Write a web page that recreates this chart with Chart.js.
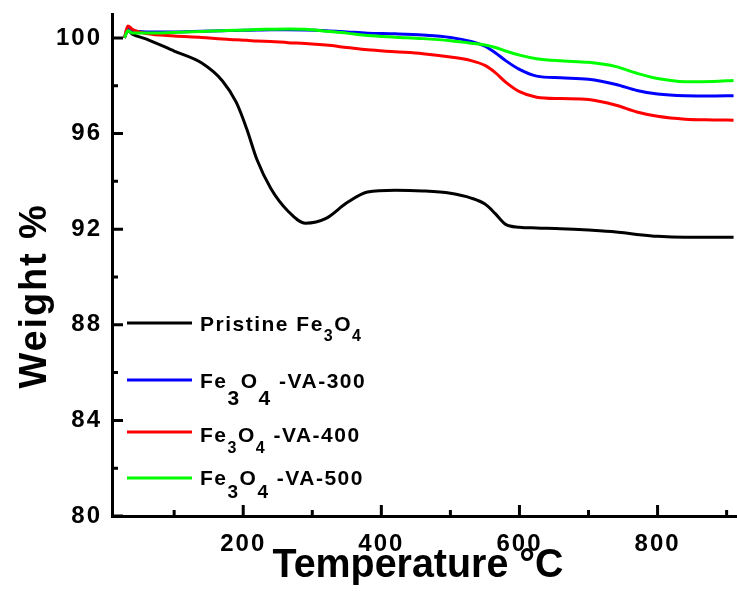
<!DOCTYPE html>
<html lang="en">
<head>
  <meta charset="UTF-8" />
  <title>TGA - Fe3O4 samples</title>
  <script src="https://cdn.jsdelivr.net/npm/chart.js"></script>
  <style>
    html, body {
      margin: 0;
      padding: 0;
      background: #ffffff;
    }
    #tgaChart {
      display: block;
    }
  </style>
</head>
<body>
  <canvas id="tgaChart" width="737" height="597"></canvas>

  <script>
    // temperature (°C) and weight (%) readings
    const temperature = [28, 33, 40, 60, 100, 140, 170, 190, 205, 220, 240, 265, 290, 320, 350, 380, 420, 460, 500, 530, 550, 565, 580, 600, 625, 660, 700, 740, 770, 800, 840, 880, 910];
    const pristine = [100.0, 100.3, 100.15, 99.95, 99.45, 98.95, 98.2, 97.3, 96.2, 94.9, 93.7, 92.75, 92.25, 92.45, 93.1, 93.55, 93.63, 93.6, 93.5, 93.3, 93.05, 92.65, 92.2, 92.08, 92.05, 92.02, 91.96, 91.88, 91.78, 91.7, 91.66, 91.66, 91.66];
    const va300 = [100.0, 100.45, 100.3, 100.25, 100.25, 100.28, 100.3, 100.31, 100.32, 100.33, 100.34, 100.34, 100.33, 100.3, 100.25, 100.2, 100.17, 100.12, 100.02, 99.85, 99.65, 99.38, 99.05, 98.68, 98.4, 98.33, 98.27, 98.05, 97.8, 97.65, 97.58, 97.57, 97.58];
    const va400 = [100.0, 100.5, 100.35, 100.18, 100.08, 100.02, 99.95, 99.92, 99.9, 99.87, 99.85, 99.8, 99.77, 99.7, 99.6, 99.5, 99.42, 99.34, 99.2, 99.05, 98.85, 98.55, 98.15, 97.75, 97.52, 97.46, 97.42, 97.18, 96.9, 96.72, 96.6, 96.57, 96.56];
    const va500 = [100.0, 100.3, 100.2, 100.2, 100.23, 100.27, 100.3, 100.32, 100.33, 100.35, 100.36, 100.37, 100.36, 100.28, 100.2, 100.1, 100.03, 99.97, 99.88, 99.78, 99.7, 99.6, 99.45, 99.28, 99.13, 99.04, 98.98, 98.8, 98.52, 98.3, 98.17, 98.18, 98.22];

    const seriesSuffix = ['', ' -VA-300', ' -VA-400', ' -VA-500'];
    const seriesColors = ['#000000', '#0000ff', '#ff0000', '#00ff00'];

    const xMajorTicks = [200, 400, 600, 800];
    const xMinorTicks = [100, 300, 500, 700, 900];
    const yMajorTicks = [80, 84, 88, 92, 96, 100];
    const yMinorTicks = [82, 86, 90, 94, 98];

    const FONT = '"Liberation Sans", Arial, sans-serif';

    function points(values) {
      return temperature.map((t, i) => ({ x: t, y: values[i] }));
    }

    // stretch or squeeze a bold label to a given width
    function fitText(ctx, text, x, y, width) {
      ctx.letterSpacing = '0px';
      const w = ctx.measureText(text).width;
      if (w > width) {
        ctx.fillText(text, x, y, width);
      } else {
        ctx.letterSpacing = ((width - w) / text.length).toFixed(2) + 'px';
        ctx.fillText(text, x, y);
        ctx.letterSpacing = '0px';
      }
    }

    // widen the tick numbers a little, like the original plot
    const spacing = {
      id: 'spacing',
      beforeDraw(chart) { chart.ctx.letterSpacing = '2px'; },
      afterDatasetsDraw(chart) { chart.ctx.letterSpacing = '0px'; }
    };

    // inward tick marks on both axes
    const tickMarks = {
      id: 'tickMarks',
      afterDatasetsDraw(chart) {
        const { ctx, chartArea: { left, bottom }, scales: { x, y } } = chart;
        ctx.save();
        ctx.strokeStyle = '#000';
        ctx.lineWidth = 3;
        ctx.beginPath();
        xMajorTicks.forEach(v => { const px = x.getPixelForValue(v); ctx.moveTo(px, bottom); ctx.lineTo(px, bottom - 11); });
        xMinorTicks.forEach(v => { const px = x.getPixelForValue(v); ctx.moveTo(px, bottom); ctx.lineTo(px, bottom - 6); });
        yMajorTicks.forEach(v => { const py = y.getPixelForValue(v); ctx.moveTo(left, py); ctx.lineTo(left + 11, py); });
        yMinorTicks.forEach(v => { const py = y.getPixelForValue(v); ctx.moveTo(left, py); ctx.lineTo(left + 6, py); });
        ctx.stroke();
        ctx.restore();
      }
    };

    // axis titles
    const axisTitles = {
      id: 'axisTitles',
      afterDraw(chart) {
        const ctx = chart.ctx;
        ctx.save();
        ctx.fillStyle = '#000';
        ctx.textAlign = 'center';
        ctx.textBaseline = 'alphabetic';
        ctx.font = 'bold 41px ' + FONT;
        fitText(ctx, 'Temperature °C', 418, 577, 291);

        ctx.translate(46, 296);
        ctx.rotate(-Math.PI / 2);
        ctx.font = 'bold 38px ' + FONT;
        fitText(ctx, 'Weight %', 0, 0, 185);
        ctx.restore();
      }
    };

    // legend with subscripted formula
    const legendRows = [
      { lineY: 323, base: 331, subDrop: 10, subSize: 16, prefix: 'Pristine ' },
      { lineY: 380, base: 388, subDrop: 17, subSize: 21, prefix: '' },
      { lineY: 432, base: 442, subDrop: 11, subSize: 16, prefix: '' },
      { lineY: 478, base: 485, subDrop: 13, subSize: 19, prefix: '' }
    ];

    const formulaLegend = {
      id: 'formulaLegend',
      afterDraw(chart) {
        const ctx = chart.ctx;
        ctx.save();
        ctx.textAlign = 'left';
        ctx.textBaseline = 'alphabetic';
        ctx.letterSpacing = '1.5px';
        legendRows.forEach((row, i) => {
          ctx.strokeStyle = seriesColors[i];
          ctx.lineWidth = 3;
          ctx.beginPath();
          ctx.moveTo(127, row.lineY);
          ctx.lineTo(192, row.lineY);
          ctx.stroke();

          ctx.fillStyle = '#000';
          const main = 'bold 21px ' + FONT;
          const sub = 'bold ' + row.subSize + 'px ' + FONT;
          const parts = [
            [row.prefix + 'Fe', main, 0],
            ['3', sub, row.subDrop],
            ['O', main, 0],
            ['4', sub, row.subDrop],
            [seriesSuffix[i], main, 0]
          ];
          let x = 200;
          parts.forEach(([text, font, drop]) => {
            if (!text) return;
            ctx.font = font;
            ctx.fillText(text, x, row.base + drop);
            x += ctx.measureText(text).width;
          });
        });
        ctx.restore();
      }
    };

    const tickFont = { family: FONT, size: 24, weight: 'bold' };

    new Chart(document.getElementById('tgaChart').getContext('2d'), {
      type: 'line',
      data: {
        datasets: [
          { label: 'Pristine Fe3O4', data: points(pristine), borderColor: seriesColors[0], order: 3 },
          { label: 'Fe3O4 -VA-300', data: points(va300), borderColor: seriesColors[1], order: 2 },
          { label: 'Fe3O4 -VA-400', data: points(va400), borderColor: seriesColors[2], order: 1 },
          { label: 'Fe3O4 -VA-500', data: points(va500), borderColor: seriesColors[3], order: 0 }
        ]
      },
      options: {
        responsive: false,
        animation: false,
        layout: { padding: { left: 0, right: 0, top: 14, bottom: 0 } },
        elements: {
          point: { radius: 0 },
          line: { borderWidth: 3, cubicInterpolationMode: 'monotone', fill: false }
        },
        plugins: {
          legend: { display: false },
          tooltip: { enabled: false }
        },
        scales: {
          x: {
            type: 'linear',
            min: 10,
            max: 915,
            afterBuildTicks: s => { s.ticks = xMajorTicks.map(v => ({ value: v })); },
            afterFit: s => { s.height = 81; s.paddingLeft = 0; s.paddingRight = 0; },
            grid: { display: false, drawTicks: false },
            border: { display: true, color: '#000', width: 3 },
            ticks: { color: '#000', font: tickFont, padding: 14, maxRotation: 0, autoSkip: false }
          },
          y: {
            type: 'linear',
            min: 80,
            max: 101,
            afterBuildTicks: s => { s.ticks = yMajorTicks.map(v => ({ value: v })); },
            afterFit: s => { s.width = 112; s.paddingTop = 0; s.paddingBottom = 0; },
            grid: { display: false, drawTicks: false },
            border: { display: true, color: '#000', width: 3 },
            ticks: { color: '#000', font: tickFont, padding: 10 }
          }
        }
      },
      plugins: [spacing, tickMarks, axisTitles, formulaLegend]
    });
  </script>
</body>
</html>
